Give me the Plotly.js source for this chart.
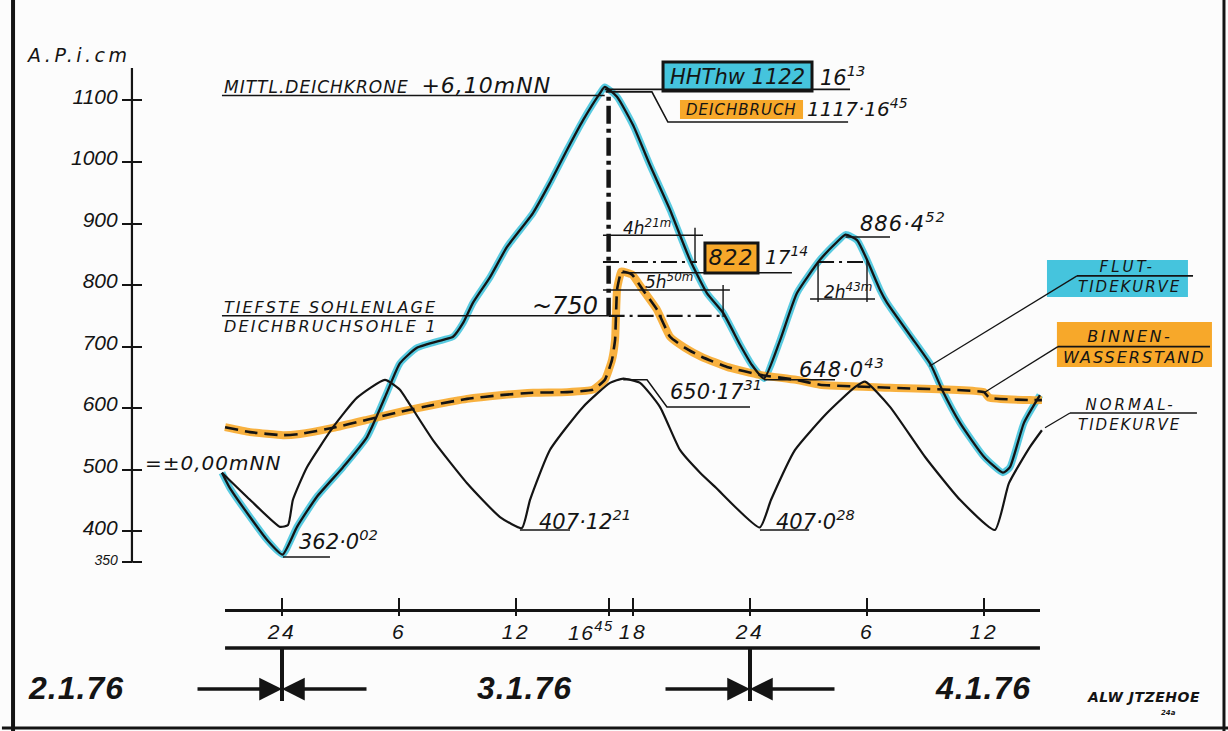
<!DOCTYPE html>
<html><head><meta charset="utf-8">
<script src="https://cdn.plot.ly/plotly-3.0.1.min.js"></script>
<style>html,body{margin:0;padding:0;background:#fcfcfc}</style>
</head><body><div id="chart" style="width:1228px;height:731px"></div>
<script>
// ---------- data (hours after midnight 2./3.1.76, water level A.P. in cm) ----------
const flutHours = [-3.08,-2.67,-1.64,-0.77,0.03,0.77,1.79,3.13,4.36,5.38,6.05,6.92,8.26,8.77,9.28,9.79,10.67,11.54,12.87,13.74,14.62,15.44,16.31,16.55,17.18,18.0,18.87,19.9,20.92,21.79,22.62,23.49,24.1,24.72,25.54,26.41,27.59,28.46,28.9,29.49,30.0,30.67,31.03,32.26,33.28,33.85,34.77,36.0,36.97,37.33,38.05,38.87];
const flutLevel = [495,470,423,386,362,407,456,504,553,625,673,698,711,716,738,771,813,862,917,966,1020,1068,1112,1122,1106,1060,995,922,841,787,755,703,670,648,710,787,841,870,882,873,841,792,771,716,670,630,576,521,495,504,576,621];

const normalHours = [-3.08,-1.64,-0.10,0.31,0.56,1.28,2.62,3.85,5.28,6.05,6.41,7.74,9.49,11.18,12.3,12.72,13.74,15.44,16.82,17.5,18.36,19.38,20.41,21.44,22.21,24.5,25.08,26.31,27.95,29.38,29.9,31.18,32.97,34.77,36.56,37.28,38.36,38.97];
const normalLevel = [495,451,407,410,451,504,569,617,646,630,613,548,478,423,405,451,532,602,641,648,641,602,532,495,472,406,451,532,592,634,643,602,521,451,402,478,537,564];

const binnenHours = [-2.92,-1.64,0.05,0.92,2.62,4.36,6.05,7.74,9.49,11.18,12.87,14.62,15.95,16.56,16.92,17.08,17.18,17.33,17.4,17.95,18.51,19.23,19.9,20.67,21.54,22.82,24.51,26.36,27.59,31.18,36.0,36.26,38.36,38.97];
const binnenLevel = [569,561,556,558,568,581,594,605,615,621,625,626,630,646,678,711,792,815,822,817,792,760,716,698,683,667,654,646,638,633,626,617,613,613];

const yTicks = [350,400,500,600,700,800,900,1000,1100];
const yTickText = ['<span style="font-size:14px">350</span>','400','500','600','700','800','900','1000','1100'];
const timeTicks = [0,6,12,16.75,18,24,30,36];
const timeTickText = ['24','6','12','','18','24','6','12'];
const breachTime = 16.75;
const breachTickLabel = '16<sup>45</sup>';
const dayLabels = ['2.1.76','3.1.76','4.1.76'];
const dayCentres = [-10.56,12.46,35.95];
const dayBoundaries = [0,24];

// ---------- styling ----------
const INK = '#141414', CYAN = '#45c4dd', ORANGE = '#f7a82a';
const F = 'DejaVu Sans';
const Y_POS = 0.0978;

function P(py){ return (610 - py) / 590; }   // paper y for the strip below the plot

const traces = [
  {x: flutHours, y: flutLevel, mode:'lines', line:{color:CYAN, width:7, shape:'spline', smoothing:0.5}, opacity:0.9, hoverinfo:'skip', showlegend:false},
  {x: binnenHours, y: binnenLevel, mode:'lines', line:{color:ORANGE, width:8, shape:'spline', smoothing:0.4}, opacity:0.9, hoverinfo:'skip', showlegend:false},
  {x: normalHours, y: normalLevel, mode:'lines', line:{color:INK, width:2.2, shape:'spline', smoothing:0.5}, hoverinfo:'skip', showlegend:false},
  {x: flutHours, y: flutLevel, mode:'lines', line:{color:INK, width:2.3, shape:'spline', smoothing:0.5}, hoverinfo:'skip', showlegend:false},
  {x: binnenHours, y: binnenLevel, mode:'lines', line:{color:INK, width:2.6, dash:'13px,7px', shape:'spline', smoothing:0.4}, hoverinfo:'skip', showlegend:false},
  {x:[0], y:[null], xaxis:'x2', yaxis:'y', mode:'lines', hoverinfo:'skip', showlegend:false},
  {x:[0], y:[null], xaxis:'x3', yaxis:'y', mode:'lines', hoverinfo:'skip', showlegend:false},
  {x:[0], y:[null], xaxis:'x', yaxis:'y2', mode:'lines', hoverinfo:'skip', showlegend:false}
];

const DD = '16px,5px,3px,5px';
function L(x0,y0,x1,y1,w,dash){ return {type:'line', xref:'x', yref:'y', x0, y0, x1, y1, layer:'above', line:{color:INK, width:w||1.6, dash:dash||'solid'}}; }
function PATH(d,w){ return {type:'path', xref:'x', yref:'y', path:d, layer:'above', line:{color:INK, width:w||1.6}}; }
function R(x0,y0,x1,y1,fill,bw){ return {type:'rect', xref:'x', yref:'y', x0, y0, x1, y1, layer:'above', fillcolor:fill, line:{color:INK, width:bw||0}}; }

const shapes = [
  // frame
  {type:'line', xref:'paper', yref:'paper', x0:-0.0008, x1:-0.0008, y0:-0.21, y1:1.05, line:{color:INK, width:4}},
  {type:'line', xref:'paper', yref:'paper', x0:1.0033, x1:1.0033, y0:-0.21, y1:1.05, line:{color:INK, width:3}},
  {type:'line', xref:'paper', yref:'paper', x0:-0.01, x1:1.01, y0:P(728), y1:P(728), line:{color:INK, width:3}},
  // y axis line
  {type:'line', xref:'paper', yref:'y', x0:Y_POS, x1:Y_POS, y0:348.5, y1:1152.8, line:{color:INK, width:2.2}},
  // date strip
  {type:'line', xref:'x', yref:'paper', x0:-2.92, x1:38.87, y0:P(648), y1:P(648), line:{color:INK, width:3.5}},
  ...dayBoundaries.map(h => ({type:'line', xref:'x', yref:'paper', x0:h, x1:h, y0:P(648), y1:P(701), line:{color:INK, width:4}})),
  // boxes
  R(19.54,1115.4,27.18,1162.6,CYAN,3),
  R(20.41,1070,26.72,1100.8,ORANGE,0),
  R(21.69,819.6,24.41,868.4,ORANGE,3),
  R(39.23,780.6,46.46,840.8,CYAN,0),
  R(39.74,667,47.69,740,ORANGE,0),
  // reference lines
  L(-3.08,1108,16.55,1108,1.6),
  L(16.55,1118,29.13,1118,1.6),
  PATH('M 16.6 1114 L 18.97 1114 L 19.79 1065 L 29.03 1065'),
  L(-3.08,750,16.75,750,1.6),
  L(16.75,750,22.62,750,2.2,DD),
  L(16.75,750,16.75,1117,4.5,'18px,5px,4px,5px'),
  L(16.46,881,21.59,881,1.4), L(21.18,893,21.18,837.5,1.4),
  L(16.46,837.5,21.28,837.5,2.2,DD),
  L(17.4,820,26.15,820,1.4),
  L(16.46,792,22.97,792,1.4), L(22.62,800,22.62,748,1.4),
  L(27.49,837.5,30.0,837.5,2.2,DD),
  L(27.49,837.5,27.49,772.5,1.4), L(30.0,841,30.0,772.5,1.4),
  L(27.08,777.4,30.41,777.4,1.4),
  L(28.9,878,31.18,878,1.5),
  L(24.72,646,28.36,646,1.5),
  PATH('M 17.5 646 L 18.72 646 L 19.74 602 L 24.0 602',1.5),
  L(0.05,358,2.46,358,1.5),
  L(12.2,402,14.77,402,1.5),
  L(24.51,402,27.03,402,1.5),
  // label leaders
  L(40.77,815,46.72,815,1.6), L(40.77,815,33.2,668,1.3),
  L(39.79,700,47.59,700,1.6), L(39.79,700,36.0,625,1.3),
  L(40.41,592,46.92,592,1.6), L(40.41,592,39.13,568,1.3)
];

function T(x,y,text,size,o){
  o = o || {};
  return {x, y, xref:o.xref||'x', yref:o.yref||'y', text, showarrow:false,
    xanchor:o.xa||'center', yanchor:'middle', align:o.xa||'center',
    font:{family:o.family||F, size, color:INK, style:o.style||'italic', weight:o.weight||'normal'},
    _ls:o.ls||0};
}

const annotations = [
  T(-10.46,1174,'A.P.i.cm',19,{ls:3.5}),
  T(-7.13,511,'=±0,00mNN',20,{xa:'left',ls:1}),
  T(-3.08,1125,'MITTL.DEICHKRONE\u00a0 <span style="font-size:22px">+6,10mNN</span>',17,{xa:'left',ls:1}),
  T(-3.08,763.6,'TIEFSTE SOHLENLAGE',16,{xa:'left',ls:2}),
  T(-3.08,732.7,'DEICHBRUCHSOHLE 1',16,{xa:'left',ls:2.2}),
  T(16.31,766,'~750',24,{xa:'right'}),
  T(17.38,894,'4h<sup>21m</sup>',17,{xa:'left'}),
  T(18.51,806.6,'5h<sup>50m</sup>',17,{xa:'left'}),
  T(27.69,790.4,'2h<sup>43m</sup>',17,{xa:'left'}),
  T(23.05,844,'822',22,{ls:1}),
  T(24.67,847.3,'17<sup>14</sup>',20,{xa:'left'}),
  T(23.36,1138.2,'HHThw 1122',21),
  T(27.49,1139.8,'16<sup>13</sup>',21,{xa:'left'}),
  T(23.56,1084.6,'DEICHBRUCH',15,{ls:1}),
  T(26.82,1087.8,'1117·16<sup>45</sup>',20,{xa:'left'}),
  T(29.54,902.5,'886·4<sup>52</sup>',21,{xa:'left',ls:1}),
  T(26.41,665.2,'648·0<sup>43</sup>',21,{xa:'left',ls:1}),
  T(19.79,629.5,'650·17<sup>31</sup>',21,{xa:'left'}),
  T(0.77,385.7,'362·0<sup>02</sup>',21,{xa:'left'}),
  T(13.08,418.2,'407·12<sup>21</sup>',21,{xa:'left'}),
  T(25.23,418.2,'407·0<sup>28</sup>',21,{xa:'left'}),
  T(43.33,829.4,'FLUT-',15,{ls:3}),
  T(43.49,796.9,'TIDEKURVE',15,{ls:2}),
  T(43.49,715.6,'BINNEN-',16,{ls:2.5}),
  T(43.74,683,'WASSERSTAND',16,{ls:2}),
  T(43.49,605,'NORMAL-',15,{ls:3}),
  T(43.49,572.6,'TIDEKURVE',15,{ls:2}),
  // tick label of the breach time, set left of its tick as in the drawing
  T(breachTime+0.42,P(631),breachTickLabel,21,{yref:'paper',xa:'right',family:'Liberation Sans',ls:1.5}),
  ...dayLabels.map((d,i) => T(dayCentres[i],P(688),d,32,{yref:'paper',family:'Liberation Sans',weight:'bold',ls:1})),
  T(41.18,P(697),'ALW JTZEHOE',14,{yref:'paper',xa:'left',weight:'bold',ls:0.5}),
  T(45.44,P(713),'24a',7,{yref:'paper',weight:'bold'})
];
// arrows pointing at the day boundaries
dayBoundaries.forEach(h => {
  [-4.41, 4.41].forEach(d => annotations.push({x:h, y:P(689), xref:'x', yref:'paper', ax:h+d, ay:0, axref:'x', ayref:'pixel',
    text:'', showarrow:true, arrowhead:2, arrowsize:1.3, arrowwidth:3.5, arrowcolor:INK, standoff:0, _ls:0}));
});

// letter spacing (stencil lettering) via CSS per annotation
const css = ['.x2tick text{letter-spacing:2.5px}'];
annotations.forEach((a,i) => { if(a._ls){ css.push('.annotation[data-index="'+i+'"] text{letter-spacing:'+a._ls+'px}'); } delete a._ls; });
const st = document.createElement('style'); st.textContent = css.join('\n'); document.head.appendChild(st);

const timeAxisBase = {range:[-2.923,38.872], domain:[0.17496,0.85075], anchor:'free', position:0,
  tickvals:timeTicks, tickwidth:2, tickcolor:INK, showgrid:false, zeroline:false};

const layout = {
  width:1228, height:731,
  margin:{l:14, r:8, t:20, b:121},
  paper_bgcolor:'#fcfcfc', plot_bgcolor:'rgba(0,0,0,0)',
  showlegend:false,
  xaxis:{range:[-13.744,48.103], domain:[0,1], visible:false, fixedrange:true},
  yaxis:{range:[348.3,1230.8], domain:[0.0797,1], anchor:'free', position:Y_POS,
    tickvals:yTicks, ticktext:yTickText, ticks:'outside', ticklen:10, tickwidth:2, tickcolor:INK,
    showline:false, showgrid:false, zeroline:false, ticklabelshift:-4,
    tickfont:{family:'Liberation Sans', size:21, color:INK, style:'italic'}},
  yaxis2:{range:[348.3,1230.8], overlaying:'y', anchor:'free', position:Y_POS, tickvals:yTicks,
    ticks:'inside', ticklen:9, tickwidth:2, tickcolor:INK, showticklabels:false, showline:false, showgrid:false, zeroline:false},
  xaxis2:Object.assign({}, timeAxisBase, {ticktext:timeTickText, ticks:'inside', ticklen:11,
    tickangle:0, showline:true, linewidth:2.5, linecolor:INK, ticklabelstandoff:2,
    tickfont:{family:'Liberation Sans', size:21, color:INK, style:'italic'}}),
  xaxis3:Object.assign({}, timeAxisBase, {overlaying:'x2', ticks:'outside', ticklen:5, showticklabels:false, showline:false}),
  shapes, annotations
};

Plotly.newPlot('chart', traces, layout, {staticPlot:true, displayModeBar:false});
</script></body></html>
